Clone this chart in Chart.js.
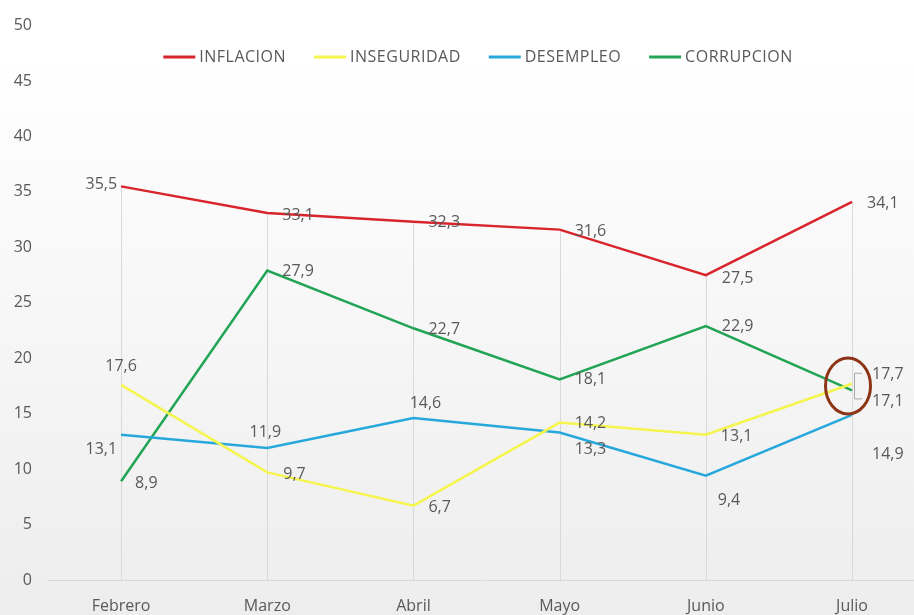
<!DOCTYPE html>
<html>
<head>
<meta charset="utf-8">
<script src="https://cdn.jsdelivr.net/npm/chart.js@4/dist/chart.umd.min.js"></script>
<style>
  html, body { margin: 0; padding: 0; background: #ffffff; overflow: hidden; }
  #chart { display: block; }
</style>
</head>
<body>
<canvas id="chart" width="914" height="615"></canvas>
<script>
'use strict';

const months = ['Febrero', 'Marzo', 'Abril', 'Mayo', 'Junio', 'Julio'];
const inflacion = [35.5, 33.1, 32.3, 31.6, 27.5, 34.1];
const inseguridad = [17.6, 9.7, 6.7, 14.2, 13.1, 17.7];
const desempleo = [13.1, 11.9, 14.6, 13.3, 9.4, 14.9];
const corrupcion = [8.9, 27.9, 22.7, 18.1, 22.9, 17.1];
const yTicks = [0, 5, 10, 15, 20, 25, 30, 35, 40, 45, 50];

const textColor = '#595959';
const fontFamily = "'Open Sans', 'DejaVu Sans', sans-serif";

// label placement per point: [dx, dy, textAlign]
const labelPlacement = [
  [[-4, -2, 'right'], [15, 2, 'left'], [15, 1, 'left'], [15, 2, 'left'], [16, 3, 'left'], [15, 2, 'left']],
  [[0, -18, 'center'], [16, 2, 'left'], [15, 2, 'left'], [15, 1, 'left'], [15, 2, 'left'], [20, -9, 'left']],
  [[-4, 15, 'right'], [-2, -16, 'center'], [12, -15, 'center'], [15, 17, 'left'], [12, 25, 'left'], [20, 40, 'left']],
  [[14, 2, 'left'], [15, 1, 'left'], [15, 1, 'left'], [15, 0, 'left'], [16, 0, 'left'], [20, 11, 'left']]
];

function toPoints(values) {
  return values.map((v, i) => ({ x: i, y: v }));
}

const backgroundPlugin = {
  id: 'bg',
  beforeDraw(chart) {
    const ctx = chart.ctx;
    const g = ctx.createLinearGradient(0, 60, 0, chart.height);
    g.addColorStop(0, '#ffffff');
    g.addColorStop(1, '#ededed');
    ctx.save();
    ctx.fillStyle = g;
    ctx.fillRect(0, 0, chart.width, chart.height);
    ctx.restore();
  }
};

// drop lines from the highest value of each month down to the axis
const dropLinesPlugin = {
  id: 'dropLines',
  beforeDatasetsDraw(chart) {
    const ctx = chart.ctx;
    const xs = chart.scales.x;
    const ys = chart.scales.y;
    ctx.save();
    ctx.strokeStyle = '#d9d9d9';
    ctx.lineWidth = 1;
    months.forEach((m, i) => {
      const top = Math.max(...chart.data.datasets.map(d => d.data[i].y));
      const x = Math.round(xs.getPixelForValue(i)) + 0.5;
      ctx.beginPath();
      ctx.moveTo(x, ys.getPixelForValue(top));
      ctx.lineTo(x, ys.getPixelForValue(0));
      ctx.stroke();
    });
    ctx.restore();
  }
};

const dataLabelsPlugin = {
  id: 'dataLabels',
  afterDatasetsDraw(chart) {
    const ctx = chart.ctx;
    ctx.save();
    ctx.font = '16px ' + fontFamily;
    ctx.fillStyle = textColor;
    ctx.textBaseline = 'middle';
    chart.data.datasets.forEach((ds, di) => {
      const meta = chart.getDatasetMeta(di);
      meta.data.forEach((pt, i) => {
        const p = labelPlacement[di][i];
        ctx.textAlign = p[2];
        ctx.fillText(ds.data[i].y.toFixed(1).replace('.', ','), pt.x + p[0], pt.y + p[1]);
      });
    });

    // bracket next to the two overlapping labels in Julio
    const last = months.length - 1;
    const yTop = chart.getDatasetMeta(1).data[last].y - 11;
    const yBot = chart.getDatasetMeta(3).data[last].y + 8;
    const bx = chart.getDatasetMeta(1).data[last].x + 2;
    ctx.strokeStyle = '#a6a6a6';
    ctx.lineWidth = 1;
    ctx.beginPath();
    ctx.moveTo(bx + 8, yTop + 0.5);
    ctx.lineTo(bx + 0.5, yTop + 0.5);
    ctx.lineTo(bx + 0.5, yBot + 0.5);
    ctx.lineTo(bx + 8, yBot + 0.5);
    ctx.stroke();

    // highlight circle
    const cx = chart.scales.x.getPixelForValue(last) - 4;
    const cy = chart.scales.y.getPixelForValue(17.5);
    ctx.strokeStyle = '#8B3516';
    ctx.lineWidth = 3;
    ctx.beginPath();
    ctx.ellipse(cx, cy, 22.5, 28, 0, 0, Math.PI * 2);
    ctx.stroke();
    ctx.restore();
  }
};

const legendPlugin = {
  id: 'topLegend',
  afterDraw(chart) {
    const ctx = chart.ctx;
    const sample = 32, gap = 4, spacing = 28, cy = 57;
    ctx.save();
    ctx.font = '16px ' + fontFamily;
    ctx.letterSpacing = '0.5px';
    const widths = chart.data.datasets.map(d => ctx.measureText(d.label).width);
    const total = widths.reduce((a, w) => a + sample + gap + w, 0) + spacing * (widths.length - 1);
    let x = 478 - total / 2;
    ctx.textBaseline = 'middle';
    ctx.textAlign = 'left';
    chart.data.datasets.forEach((d, i) => {
      ctx.strokeStyle = d.borderColor;
      ctx.lineWidth = 3;
      ctx.beginPath();
      ctx.moveTo(x, cy);
      ctx.lineTo(x + sample, cy);
      ctx.stroke();
      ctx.fillStyle = textColor;
      ctx.fillText(d.label, x + sample + gap, cy);
      x += sample + gap + widths[i] + spacing;
    });
    ctx.restore();
  }
};

function renderChart() {
  const data = {
    datasets: [
      { label: 'INFLACION', data: toPoints(inflacion), borderColor: '#D8242B' },
      { label: 'INSEGURIDAD', data: toPoints(inseguridad), borderColor: '#F5F54E' },
      { label: 'DESEMPLEO', data: toPoints(desempleo), borderColor: '#27A8DC' },
      { label: 'CORRUPCION', data: toPoints(corrupcion), borderColor: '#22A455' }
    ]
  };

  const config = {
    type: 'line',
    data: data,
    options: {
      responsive: false,
      animation: false,
      layout: { padding: { top: 20, right: 0, left: 0, bottom: 0 } },
      elements: {
        line: { borderWidth: 2.5, tension: 0, fill: false },
        point: { radius: 0, hoverRadius: 0 }
      },
      plugins: {
        legend: { display: false },
        tooltip: { enabled: false }
      },
      scales: {
        x: {
          type: 'linear',
          min: -0.5,
          max: 5.424,
          grid: { display: false, drawTicks: false },
          border: { display: true, color: '#d9d9d9', width: 1 },
          afterFit(scale) { scale.height = 35; },
          afterBuildTicks(scale) {
            scale.ticks = months.map((m, i) => ({ value: i }));
          },
          ticks: {
            autoSkip: false,
            maxRotation: 0,
            padding: 17,
            color: textColor,
            font: { family: fontFamily, size: 16 },
            callback: (v) => months[v]
          }
        },
        y: {
          min: 0,
          max: 50,
          grid: { display: false, drawTicks: false },
          border: { display: false },
          afterFit(scale) { scale.width = 48; },
          afterBuildTicks(scale) {
            scale.ticks = yTicks.map(v => ({ value: v }));
          },
          ticks: {
            padding: 16,
            color: textColor,
            font: { family: fontFamily, size: 16 }
          }
        }
      }
    },
    plugins: [backgroundPlugin, dropLinesPlugin, dataLabelsPlugin, legendPlugin]
  };

  const chartElem = document.getElementById('chart');
  new Chart(chartElem, config);
}

renderChart();
</script>
</body>
</html>
